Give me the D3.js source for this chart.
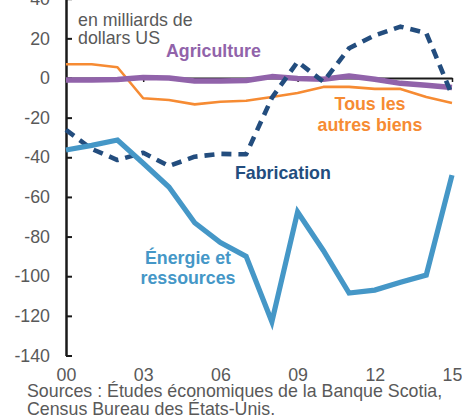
<!DOCTYPE html>
<html><head><meta charset="utf-8">
<script src="https://cdn.jsdelivr.net/npm/d3@7"></script>
<style>
html,body{margin:0;padding:0;background:#fff;}
svg{display:block;font-family:"Liberation Sans",Arial,sans-serif;}
</style></head>
<body>
<svg id="c" width="462" height="417"></svg>
<script>
const years = [2000,2001,2002,2003,2004,2005,2006,2007,2008,2009,2010,2011,2012,2013,2014,2015];
const energie = [-36.3,-34,-31.3,-43,-55,-73,-83,-90,-123,-67.6,-87,-108.5,-107,-103,-99.4,-49];
const fabrication = [-26.2,-35.8,-41.4,-37.7,-44.4,-39.7,-38.3,-38.5,-10,8.2,-1.9,15,21.5,25.9,22.7,-8.6];
const agriculture = [-1,-1,-0.8,0.2,0,-1.5,-1.5,-1.3,0.7,-0.2,-0.6,1,-0.6,-2.7,-3.7,-4.8];
const autres = [6.9,6.9,5.4,-10.2,-11.1,-13.3,-12,-11.5,-9.6,-7.6,-4.5,-4.5,-5.5,-5.5,-9.6,-12.6];
const yTicks = [40,20,0,-20,-40,-60,-80,-100,-120,-140];
const xTicks = [2000,2003,2006,2009,2012,2015];
const xTickLabels = ["00","03","06","09","12","15"];
const unitLines = ["en milliards de","dollars US"];
const sourceLines = ["Sources : Études économiques de la Banque Scotia,","Census Bureau des États-Unis."];

const svg = d3.select("#c");
const x = d3.scaleLinear().domain([2000,2015]).range([66,452]);
const y = d3.scaleLinear().domain([-140,40]).range([355.5,-1.3]);
const gray = "#595959";
const fs = "17.8px";

// Y axis
const ya = svg.append("g").attr("transform","translate(66,0)")
  .call(d3.axisLeft(y).tickValues(yTicks).tickSizeInner(-6).tickSizeOuter(0).tickPadding(16).tickFormat(d=>String(d)));
ya.select(".domain").attr("stroke","#1a1a1a").attr("stroke-width",2.5);
ya.selectAll(".tick line").attr("stroke","#1a1a1a").attr("stroke-width",2);
ya.selectAll(".tick text").attr("fill",gray).style("font-size",fs).style("font-family","Liberation Sans, Arial, sans-serif");

// zero line axis
const za = svg.append("g").attr("transform",`translate(0,${y(0)})`)
  .call(d3.axisBottom(x).tickValues(xTicks).tickSizeInner(4).tickSizeOuter(0).tickFormat(""));
za.select(".domain").attr("stroke","#1a1a1a").attr("stroke-width",2);
za.selectAll(".tick line").attr("stroke","#1a1a1a").attr("stroke-width",1.5);

// bottom labels
const xa = svg.append("g").attr("transform","translate(0,368.6)")
  .call(d3.axisBottom(x).tickValues(xTicks).tickSize(0).tickPadding(0).tickFormat((d,i)=>xTickLabels[i]));
xa.select(".domain").remove();
xa.selectAll(".tick text").attr("fill",gray).style("font-size",fs).style("font-family","Liberation Sans, Arial, sans-serif");

const line = d3.line().x((d,i)=>x(years[i])).y(d=>y(d));

svg.append("path").datum(autres).attr("d",line).attr("fill","none")
  .attr("stroke","#F68B33").attr("stroke-width",2.6).attr("stroke-linejoin","round");
svg.append("path").datum(agriculture).attr("d",line).attr("fill","none")
  .attr("stroke","#9163AA").attr("stroke-width",5.5).attr("stroke-linejoin","round");
svg.append("path").datum(fabrication).attr("d",line).attr("fill","none")
  .attr("stroke","#234D7E").attr("stroke-width",4.6).attr("stroke-dasharray","10,7").attr("stroke-linejoin","round");
svg.append("path").datum(energie).attr("d",line).attr("fill","none")
  .attr("stroke","#4597C7").attr("stroke-width",5.2).attr("stroke-linejoin","miter");

// texts
function lines(arr, xx, y0, dy, anchor, color, weight){
  arr.forEach((t,i)=>{
    svg.append("text").attr("x",xx).attr("y",y0+i*dy).attr("text-anchor",anchor)
      .attr("fill",color).style("font-size",fs).style("font-weight",weight).text(t);
  });
}
lines(unitLines,78,26,17.5,"start",gray,"normal");
lines(["Agriculture"],166,57,20,"start","#9163AA","bold");
lines(["Tous les","autres biens"],370,110,20.5,"middle","#F68B33","bold");
lines(["Fabrication"],235,178.5,20,"start","#234D7E","bold");
lines(["Énergie et","ressources"],188,264,19.5,"middle","#4597C7","bold");
lines(sourceLines,27,397,17.5,"start",gray,"normal");
</script>
</body></html>
